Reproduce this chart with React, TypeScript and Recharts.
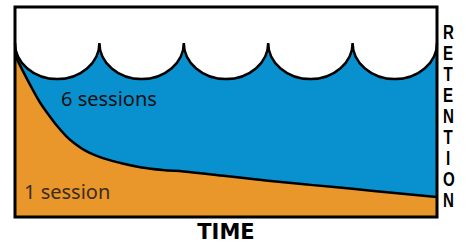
import React from 'react';
import { ComposedChart, Area, XAxis, YAxis, ReferenceArea } from 'recharts';

// time (arbitrary units, 0..100)
const times = [0, 2, 4, 6, 8, 10, 12, 14, 16, 20, 25, 30, 35, 40, 50, 60, 70, 80, 90, 100];
// retention with 6 sessions: wave crests (cusps) and troughs
const sixSessions: (number | null)[] = [82.9, null, null, null, null, 65.7, null, null, null, 82.9, null, 65.7, null, 82.9, 65.7, 82.9, 65.7, 82.9, 65.7, 82.9];
// retention with 1 session: decaying curve
const oneSession = [77.1, 69.0, 61.4, 54.3, 48.6, 43.3, 38.8, 35.2, 32.4, 28.6, 25.7, 23.6, 22.4, 21.7, 19.5, 17.3, 15.3, 13.4, 11.4, 9.5];

const seriesLabels = ['6 sessions', '1 session'];
const xTitle = 'TIME';
const yTitle = 'RETENTION';

const data = times.map((t, i) => ({ t, six: sixSessions[i], one: oneSession[i] }));

// Curve factory: scallop arcs between crests (vertical tangent) and troughs (horizontal tangent)
class Scallop {
  _context: any;
  _line: number = NaN;
  _point: number = 0;
  _x: number = 0;
  _y: number = 0;
  constructor(context: any) {
    this._context = context;
  }
  areaStart() {
    this._line = 0;
  }
  areaEnd() {
    this._line = NaN;
  }
  lineStart() {
    this._point = 0;
  }
  lineEnd() {
    if (this._line || (this._line !== 0 && this._point === 1)) this._context.closePath();
    this._line = 1 - this._line;
  }
  point(xx: number, yy: number) {
    const x = +xx;
    const y = +yy;
    const c = this._context;
    if (this._point === 0) {
      this._point = 1;
      if (this._line) c.lineTo(x, y);
      else c.moveTo(x, y);
    } else {
      this._point = 2;
      if (this._line === 1 || y === this._y) {
        c.lineTo(x, y);
      } else {
        const k = 0.5523;
        const x0 = this._x;
        const y0 = this._y;
        if (y > y0) {
          // falling from crest to trough
          c.bezierCurveTo(x0, y0 + k * (y - y0), x - k * (x - x0), y, x, y);
        } else {
          // rising from trough to crest
          c.bezierCurveTo(x0 + k * (x - x0), y0, x, y + k * (y0 - y), x, y);
        }
      }
    }
    this._x = x;
    this._y = y;
  }
}
const curveScallop: any = (context: any) => new Scallop(context);

export default function App() {
  return (
    <div style={{ position: 'absolute', left: 0, top: 0, width: 466, height: 245, background: '#fff' }}>
      <ComposedChart width={466} height={245} data={data} margin={{ top: 7, right: 29, bottom: 28, left: 15 }}>
        <XAxis type="number" dataKey="t" domain={[0, 100]} hide />
        <YAxis type="number" domain={[0, 100]} hide />
        <Area
          dataKey="six"
          type={curveScallop}
          fill="#0990CE"
          fillOpacity={1}
          stroke="#000"
          strokeWidth={2.5}
          connectNulls
          dot={false}
          activeDot={false}
          isAnimationActive={false}
        />
        <Area
          dataKey="one"
          type="monotone"
          fill="#E9962A"
          fillOpacity={1}
          stroke="#000"
          strokeWidth={2.5}
          dot={false}
          activeDot={false}
          isAnimationActive={false}
        />
        <ReferenceArea x1={0} x2={100} y1={0} y2={100} fill="none" fillOpacity={0} stroke="#000" strokeWidth={3} ifOverflow="visible" />
      </ComposedChart>
      <svg width={466} height={245} style={{ position: 'absolute', left: 0, top: 0, pointerEvents: 'none' }}>
        <text x={61} y={106} fontFamily="Noto Sans" fontSize={20} fill="#111">{seriesLabels[0]}</text>
        <text x={24} y={199} fontFamily="Noto Sans" fontSize={20} fill="#3a2c1c">{seriesLabels[1]}</text>
        <text x={226} y={239} fontFamily="DejaVu Sans" fontWeight="bold" fontSize={21} textAnchor="middle" fill="#000">{xTitle}</text>
      </svg>
      <div
        style={{
          position: 'absolute',
          left: 441,
          top: 20.5,
          width: 14,
          fontFamily: 'Liberation Sans',
          fontWeight: 'bold',
          fontSize: 21,
          lineHeight: '21.05px',
          textAlign: 'center',
          wordBreak: 'break-all',
          color: '#000',
          transform: 'scaleX(0.72)',
          transformOrigin: '7px 0',
        }}
      >
        {yTitle}
      </div>
    </div>
  );
}
